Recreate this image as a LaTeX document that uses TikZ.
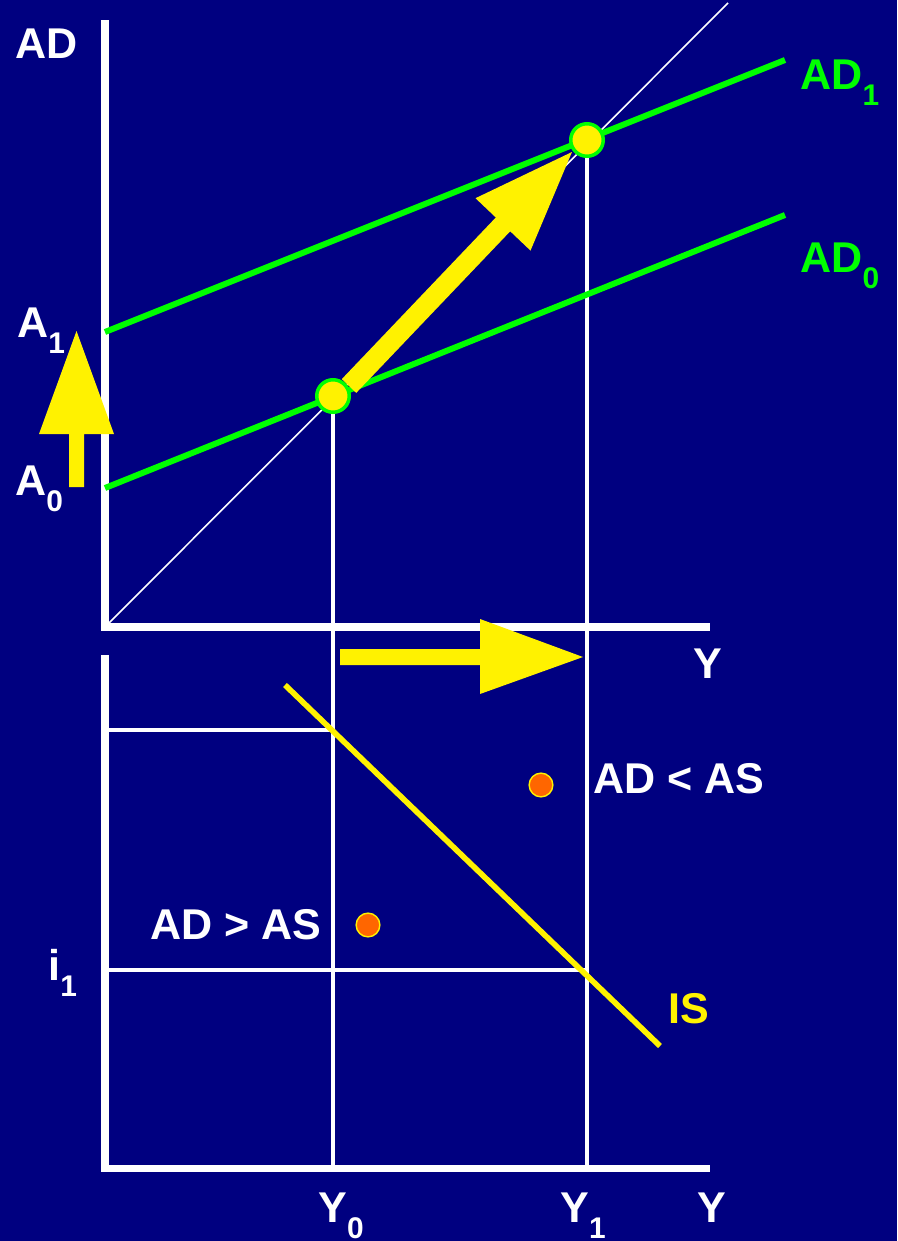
\documentclass[tikz,border=0pt]{standalone}
\usepackage{fontspec}
\setmainfont{Liberation Sans}
\usetikzlibrary{positioning,calc}
\definecolor{navy}{RGB}{0,0,128}
\definecolor{adgreen}{RGB}{0,255,0}
\definecolor{dotorange}{RGB}{255,102,0}
\newcommand{\lowidx}[1]{\raisebox{-9.5pt}{\fontsize{17}{17}\selectfont #1}}

\begin{document}
\begin{tikzpicture}[x=0.02cm,y=-0.02cm,
  lab/.style={anchor=base west,inner sep=0pt,text=white,font=\fontsize{24.5}{29}\selectfont\bfseries},
  axis/.style={white,line width=4pt},
  guide/.style={white,line width=1.8pt},
  adline/.style={adgreen,line width=3.4pt},
  eqdot/.style={circle,inner sep=0pt,minimum size=18.5pt,fill=yellow,draw=adgreen,line width=2pt},
  gapdot/.style={circle,inner sep=0pt,minimum size=13.5pt,fill=dotorange,draw=yellow,line width=0.8pt}]
  \useasboundingbox (0,0) rectangle (897,1241);
  \fill[navy] (0,0) rectangle (897,1241);
  % points used below
  \coordinate (O) at (105,627);
  \coordinate (lo) at (105,1168);
  \coordinate (E0) at (333,396);
  \coordinate (E1) at (587,140);
  % 45 degree line
  \draw[white,line width=0.9pt] (O) -- (728,3);
  % guides
  \draw[guide] (E0) -- (E0 |- lo);
  \draw[guide] (E1) -- (E1 |- lo);
  \draw[guide] (105,730) -- (E0 |- 0,730);
  \draw[guide] (105,970) -- (E1 |- 0,970);
  % axes
  \draw[axis] (105,20) -- (O) -- (710,627);
  \draw[axis] (105,655) -- (lo) -- (710,1168);
  % AD lines and IS
  \draw[adline] (105,488) -- (785,215);
  \draw[adline] (105,332) -- (785,60);
  \draw[yellow,line width=3.2pt] (285,685) -- (660,1046);
  % yellow arrows
  \fill[yellow] (69,487) -- (69,434) -- (39,434) -- (76.5,331) -- (114,434) -- (84,434) -- (84,487) -- cycle;
  \fill[yellow] (340,649) -- (480,649) -- (480,619) -- (583,657) -- (480,694) -- (480,665) -- (340,665) -- cycle;
  \fill[yellow] (341.8,379.1) -- (495.8,217.5) -- (475.5,198.2) -- (572,152) -- (530.5,250.6) -- (510.2,231.3) -- (356.2,392.9) -- cycle;
  % dots
  \node[eqdot] (e0) at (E0) {};
  \node[eqdot] (e1) at (E1) {};
  \node[gapdot] (low) at (541,785) {};
  \node[gapdot] (high) at (368,925) {};
  % labels
  \node[lab] (adlab) at (15,58) {AD};
  \node[lab,text=adgreen] (ad1) at (800,89) {AD\lowidx{1}};
  \node[lab,text=adgreen] (ad0) at (800,272) {AD\lowidx{0}};
  \node[lab] (a1) at (17,337) {A\lowidx{1}};
  \node[lab] (a0) at (15,495) {A\lowidx{0}};
  \node[lab] (yup) at (693,678) {Y};
  \node[lab] (lowlab) at (593,793) {AD < AS};
  \node[lab] (highlab) at (150,939) {AD > AS};
  \node[lab] (i1) at (48,980) {i\lowidx{1}};
  \node[lab,text=yellow] (islab) at (668,1023) {IS};
  \node[lab] (y0) at (318,1222) {Y\lowidx{0}};
  \node[lab] (y1) at (560,1222) {Y\lowidx{1}};
  \node[lab] (ydown) at (697,1222) {Y};
\end{tikzpicture}
\end{document}
